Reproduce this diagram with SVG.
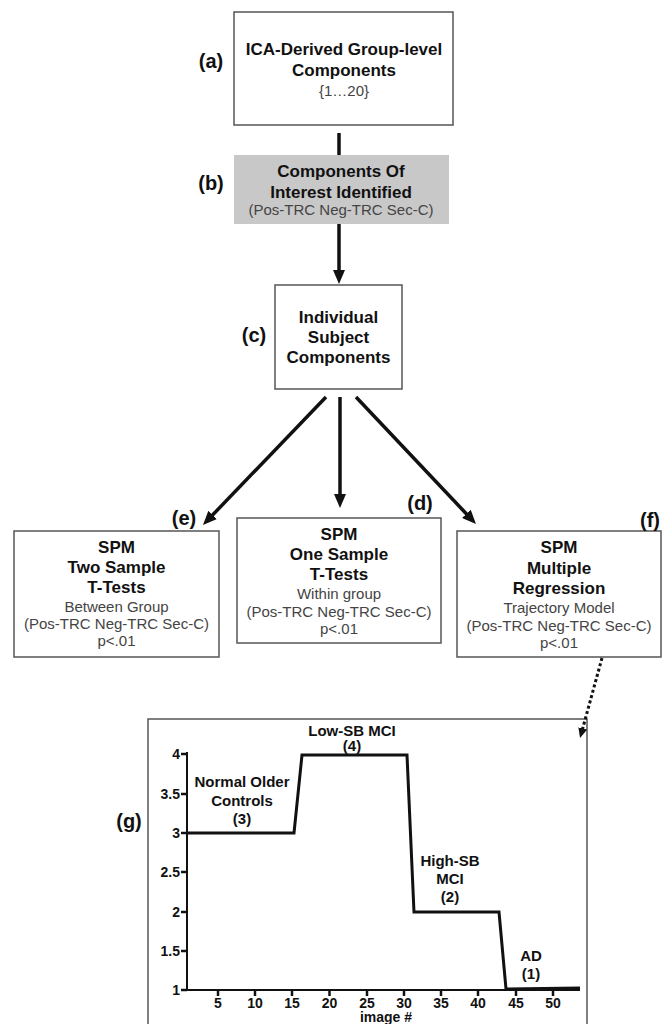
<svg xmlns="http://www.w3.org/2000/svg" width="665" height="1024" viewBox="0 0 665 1024">
<style>
.box{fill:#fff;stroke:#555;stroke-width:1.5}
.b{font-family:"Liberation Sans",Arial,sans-serif;font-weight:bold;font-size:17px;fill:#111;text-anchor:middle}
.r{font-family:"Liberation Sans",Arial,sans-serif;font-size:15px;fill:#444;text-anchor:middle}
.lab{font-family:"Liberation Sans",Arial,sans-serif;font-weight:bold;font-size:20px;fill:#111;text-anchor:middle}
.c{font-family:"Liberation Sans",Arial,sans-serif;font-weight:bold;font-size:15px;fill:#111;text-anchor:middle}
.t{font-family:"Liberation Sans",Arial,sans-serif;font-weight:bold;font-size:14px;fill:#111}
.arr{stroke:#111;stroke-width:3.5;fill:none}
.tick{stroke:#111;stroke-width:2.5}
</style>
<defs>
<marker id="ah" markerUnits="userSpaceOnUse" markerWidth="14" markerHeight="12" refX="4" refY="6" orient="auto"><path d="M0,0 L14,6 L0,12 z" fill="#111"/></marker>
<marker id="ahs" markerUnits="userSpaceOnUse" markerWidth="10" markerHeight="9" refX="3" refY="4.5" orient="auto"><path d="M0,0 L10,4.5 L0,9 z" fill="#111"/></marker>
</defs>

<g id="node-a">
<rect class="box" x="234" y="12" width="219" height="113"/>
<text class="b" x="344" y="55">ICA-Derived Group-level</text>
<text class="b" x="344" y="76">Components</text>
<text class="r" x="344" y="96">{1…20}</text>
<text class="lab" x="211" y="68">(a)</text>
</g>

<g id="node-b">
<rect x="234" y="155" width="215" height="69" fill="#c8c8c8"/>
<text class="b" x="341" y="177">Components Of</text>
<text class="b" x="341" y="198">Interest Identified</text>
<text class="r" x="341" y="215">(Pos-TRC Neg-TRC Sec-C)</text>
<text class="lab" x="211" y="190">(b)</text>
</g>

<g id="node-c">
<rect class="box" x="275" y="285" width="127" height="104"/>
<text class="b" x="338.5" y="323">Individual</text>
<text class="b" x="338.5" y="343">Subject</text>
<text class="b" x="338.5" y="363">Components</text>
<text class="lab" x="254" y="342">(c)</text>
</g>

<g id="node-e">
<rect class="box" x="14" y="531" width="205" height="126"/>
<text class="b" x="116.5" y="553">SPM</text>
<text class="b" x="116.5" y="573">Two Sample</text>
<text class="b" x="116.5" y="593">T-Tests</text>
<text class="r" x="116.5" y="612">Between Group</text>
<text class="r" x="116.5" y="629">(Pos-TRC Neg-TRC Sec-C)</text>
<text class="r" x="116.5" y="646">p&lt;.01</text>
<text class="lab" x="184" y="525">(e)</text>
</g>

<g id="node-d">
<rect class="box" x="237" y="518" width="204" height="125"/>
<text class="b" x="339" y="540">SPM</text>
<text class="b" x="339" y="560">One Sample</text>
<text class="b" x="339" y="580">T-Tests</text>
<text class="r" x="339" y="599">Within group</text>
<text class="r" x="339" y="617">(Pos-TRC Neg-TRC Sec-C)</text>
<text class="r" x="339" y="634">p&lt;.01</text>
<text class="lab" x="420" y="510">(d)</text>
</g>

<g id="node-f">
<rect class="box" x="457" y="531" width="204" height="126"/>
<text class="b" x="559" y="553">SPM</text>
<text class="b" x="559" y="574">Multiple</text>
<text class="b" x="559" y="594">Regression</text>
<text class="r" x="559" y="613">Trajectory Model</text>
<text class="r" x="559" y="631">(Pos-TRC Neg-TRC Sec-C)</text>
<text class="r" x="559" y="648">p&lt;.01</text>
<text class="lab" x="650" y="527">(f)</text>
</g>

<g id="node-g">
<rect class="box" x="148" y="719" width="439" height="340"/>
<text class="lab" x="129" y="828">(g)</text>
<line x1="187" y1="752" x2="187" y2="990" stroke="#111" stroke-width="2"/>
<line x1="187" y1="990" x2="580" y2="990" stroke="#111" stroke-width="2"/>
<g class="tick">
<line x1="181" y1="754" x2="187" y2="754"/>
<line x1="181" y1="794" x2="187" y2="794"/>
<line x1="181" y1="833" x2="187" y2="833"/>
<line x1="181" y1="872" x2="187" y2="872"/>
<line x1="181" y1="912" x2="187" y2="912"/>
<line x1="181" y1="951" x2="187" y2="951"/>
<line x1="181" y1="990" x2="187" y2="990"/>
<line x1="218" y1="990" x2="218" y2="996"/>
<line x1="255" y1="990" x2="255" y2="996"/>
<line x1="292" y1="990" x2="292" y2="996"/>
<line x1="329.5" y1="990" x2="329.5" y2="996"/>
<line x1="367" y1="990" x2="367" y2="996"/>
<line x1="404" y1="990" x2="404" y2="996"/>
<line x1="441" y1="990" x2="441" y2="996"/>
<line x1="478" y1="990" x2="478" y2="996"/>
<line x1="516" y1="990" x2="516" y2="996"/>
<line x1="553" y1="990" x2="553" y2="996"/>
</g>
<g class="t" text-anchor="end">
<text x="180" y="759">4</text>
<text x="180" y="799">3.5</text>
<text x="180" y="838">3</text>
<text x="180" y="877">2.5</text>
<text x="180" y="917">2</text>
<text x="180" y="956">1.5</text>
<text x="180" y="995">1</text>
</g>
<g class="t" text-anchor="middle">
<text x="218" y="1008">5</text>
<text x="255" y="1008">10</text>
<text x="292" y="1008">15</text>
<text x="329.5" y="1008">20</text>
<text x="367" y="1008">25</text>
<text x="404" y="1008">30</text>
<text x="441" y="1008">35</text>
<text x="478" y="1008">40</text>
<text x="516" y="1008">45</text>
<text x="553" y="1008">50</text>
<text x="386" y="1022">image #</text>
</g>
<polyline points="188,833 294,833 302,755 407,755 414,912 499,912 506,989 580,988" fill="none" stroke="#111" stroke-width="3" stroke-linejoin="miter"/>
<text class="c" x="352" y="736">Low-SB MCI</text>
<text class="c" x="352" y="751">(4)</text>
<text class="c" x="242" y="787">Normal Older</text>
<text class="c" x="242" y="806">Controls</text>
<text class="c" x="242" y="824">(3)</text>
<text class="c" x="450" y="866">High-SB</text>
<text class="c" x="450" y="884">MCI</text>
<text class="c" x="450" y="902">(2)</text>
<text class="c" x="531" y="961">AD</text>
<text class="c" x="531" y="979">(1)</text>
</g>

<g id="connectors">
<line class="arr" x1="339" y1="133" x2="339" y2="155" stroke-width="4"/>
<line class="arr" x1="339" y1="224" x2="339" y2="274" marker-end="url(#ah)"/>
<line class="arr" x1="326" y1="397" x2="209.9" y2="517.8" marker-end="url(#ah)"/>
<line class="arr" x1="340" y1="397" x2="340" y2="498" marker-end="url(#ah)"/>
<line class="arr" x1="356" y1="397" x2="469.1" y2="516.7" marker-end="url(#ah)"/>
<line x1="602" y1="658" x2="581.9" y2="731.3" stroke="#111" stroke-width="3" stroke-dasharray="3 2.5" marker-end="url(#ahs)"/>
</g>
</svg>
